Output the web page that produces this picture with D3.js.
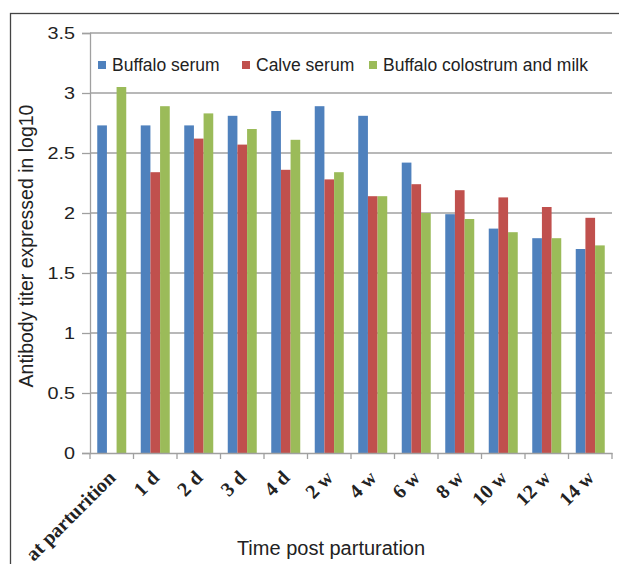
<!DOCTYPE html>
<html>
<head>
<meta charset="utf-8">
<script src="https://cdn.jsdelivr.net/npm/d3@7"></script>
<style>
  body { margin: 0; background: #fff; }
  svg { display: block; }
  text { fill: #222; }
</style>
</head>
<body>
<div id="chart"></div>
<script>
const categories = ['at parturition', '1 d', '2 d', '3 d', '4 d', '2 w', '4 w', '6 w', '8 w', '10 w', '12 w', '14 w'];
const seriesNames = ['Buffalo serum', 'Calve serum', 'Buffalo colostrum and milk'];
const buffaloSerum = [2.73, 2.73, 2.73, 2.81, 2.85, 2.89, 2.81, 2.42, 1.99, 1.87, 1.79, 1.70];
const calveSerum = [0, 2.34, 2.62, 2.57, 2.36, 2.28, 2.14, 2.24, 2.19, 2.13, 2.05, 1.96];
const colostrumMilk = [3.05, 2.89, 2.83, 2.70, 2.61, 2.34, 2.14, 2.00, 1.95, 1.84, 1.79, 1.73];
const yTicks = [0, 0.5, 1, 1.5, 2, 2.5, 3, 3.5];
const colors = ['#4f81bd', '#c0504d', '#9bbb59'];

const seriesValues = [buffaloSerum, calveSerum, colostrumMilk];

const width = 619, height = 564;
const plot = { left: 90, right: 612, top: 33, bottom: 453 };
const sans = 'Liberation Sans, Arial, sans-serif';

const svg = d3.select('#chart').append('svg')
  .attr('width', width)
  .attr('height', height);

// outer frame
svg.append('rect')
  .attr('x', 10.5).attr('y', 13.5)
  .attr('width', 640).attr('height', 600)
  .attr('fill', 'none')
  .attr('stroke', '#444')
  .attr('stroke-width', 1.3);

const x = d3.scaleBand()
  .domain(categories)
  .range([plot.left, plot.right]);

const gapRatio = 1.5;
const barW = x.bandwidth() / (3 + gapRatio);

const y = d3.scaleLinear()
  .domain([0, 3.5])
  .range([plot.bottom, plot.top]);

// gridlines
svg.append('g')
  .selectAll('line')
  .data(yTicks.filter(d => d > 0))
  .enter().append('line')
  .attr('x1', plot.left).attr('x2', plot.right)
  .attr('y1', d => y(d)).attr('y2', d => y(d))
  .attr('stroke', '#a0a0a0')
  .attr('stroke-width', 1.3);

// bars
seriesValues.forEach((vals, s) => {
  svg.append('g')
    .selectAll('rect')
    .data(vals)
    .enter().append('rect')
    .attr('x', (d, i) => x(categories[i]) + barW * gapRatio / 2 + s * barW)
    .attr('y', d => y(d))
    .attr('width', barW)
    .attr('height', d => y(0) - y(d))
    .attr('fill', colors[s]);
});

// y axis, labels drawn separately below
const yAxis = svg.append('g')
  .attr('transform', `translate(${plot.left},0)`)
  .call(d3.axisLeft(y).tickValues(yTicks).tickFormat('').tickSize(8));
yAxis.select('.domain').attr('stroke', '#a0a0a0').attr('stroke-width', 1.3);
yAxis.selectAll('.tick line').attr('stroke', '#a0a0a0').attr('stroke-width', 1.3);

// the original's tick numbers are a bit wide
svg.append('g')
  .selectAll('text')
  .data(yTicks)
  .enter().append('text')
  .attr('transform', d => `translate(75,${y(d) + 6}) scale(1.2,1)`)
  .attr('text-anchor', 'end')
  .style('font-family', sans)
  .style('font-size', '16.5px')
  .style('fill', '#222')
  .text(d => d);

// x axis
const xAxis = svg.append('g')
  .attr('transform', `translate(0,${plot.bottom})`)
  .call(d3.axisBottom(x).tickSize(0).tickFormat(''));
xAxis.select('.domain').attr('stroke', '#a0a0a0').attr('stroke-width', 1.3);
xAxis.selectAll('.tick').remove();

svg.append('g')
  .selectAll('line')
  .data(d3.range(categories.length + 1))
  .enter().append('line')
  .attr('x1', i => plot.left + i * x.bandwidth())
  .attr('x2', i => plot.left + i * x.bandwidth())
  .attr('y1', plot.bottom).attr('y2', plot.bottom + 6)
  .attr('stroke', '#a0a0a0')
  .attr('stroke-width', 1.3);

svg.append('g')
  .selectAll('text')
  .data(categories)
  .enter().append('text')
  .attr('transform', d => `translate(${x(d) + x.bandwidth() / 2 + 5},${plot.bottom + 26}) rotate(-45)`)
  .attr('text-anchor', 'end')
  .style('font-family', 'Liberation Serif, Times New Roman, serif')
  .style('font-weight', 'bold')
  .style('font-size', '20px')
  .text(d => d);

// axis titles
svg.append('text')
  .attr('x', 331)
  .attr('y', 555)
  .attr('text-anchor', 'middle')
  .style('font-family', sans)
  .style('font-size', '20px')
  .text('Time post parturation');

svg.append('text')
  .attr('transform', 'translate(33,246) rotate(-90)')
  .attr('text-anchor', 'middle')
  .style('font-family', sans)
  .style('font-size', '19.5px')
  .text('Antibody titer expressed in log10');

// legend
const legendX = [98, 242, 369];
const legend = svg.append('g');
seriesNames.forEach((name, s) => {
  legend.append('rect')
    .attr('x', legendX[s]).attr('y', 61)
    .attr('width', 8).attr('height', 8)
    .attr('fill', colors[s]);
  legend.append('text')
    .attr('x', legendX[s] + 14)
    .attr('y', 71)
    .style('font-family', sans)
    .style('font-size', '17.5px')
    .text(name);
});
</script>
</body>
</html>
